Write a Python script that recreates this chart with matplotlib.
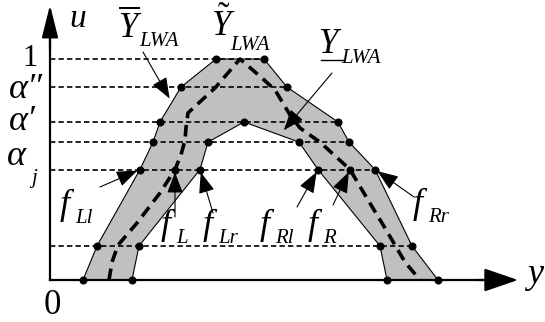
import matplotlib
matplotlib.use("Agg")
import matplotlib.pyplot as plt

plt.rcParams["mathtext.fontset"] = "custom"
plt.rcParams["mathtext.rm"] = "Liberation Serif"
plt.rcParams["mathtext.it"] = "Liberation Serif:italic"

SERIF = ["Liberation Serif", "DejaVu Serif"]

# alpha-cut levels (u axis)
alpha_levels = [1.0, 0.873, 0.715, 0.624, 0.5, 0.154]

# upper membership function  (Y-bar)
upper_x = [33, 47, 90, 103, 110, 131, 166, 214, 237, 288, 299, 325, 362, 388]
upper_u = [0, 0.154, 0.5, 0.624, 0.715, 0.873, 1.0, 1.0, 0.873, 0.715, 0.624, 0.5, 0.154, 0]

# lower membership function  (Y-underbar)
lower_x = [82, 89, 150, 158, 194, 249, 268, 330, 337]
lower_u = [0, 0.154, 0.5, 0.624, 0.715, 0.624, 0.5, 0.154, 0]

# an embedded type-1 set inside the footprint
emb_x = [59, 62, 68, 87, 110, 125, 131, 135, 136, 138, 165, 190,
         212, 225, 240, 250, 270, 300, 318, 335, 345, 355, 370]
emb_u = [0, 0.081, 0.158, 0.258, 0.394, 0.5, 0.566, 0.633, 0.688, 0.756, 0.869, 1.0,
         0.914, 0.860, 0.747, 0.688, 0.624, 0.5, 0.362, 0.235, 0.158, 0.081, 0]

alpha_j = 0.5


def at(px, py):
    """figure pixel (from top-left) -> data coords"""
    return px - 50, (280 - py) / 221


fig = plt.figure(figsize=(5.45, 3.22), dpi=100)
ax = fig.add_axes([0, 0, 1, 1])
ax.set_xlim(-50, 495)
ax.set_ylim((280 - 322) / 221, 280 / 221)
ax.axis("off")

# footprint of uncertainty
ax.fill(upper_x, upper_u, color="#c0c0c0", lw=0, zorder=1)
ax.fill(lower_x, lower_u, color="white", lw=0, zorder=1)
ax.plot(upper_x, upper_u, color="k", lw=0.8, zorder=2)
ax.plot(lower_x, lower_u, color="k", lw=0.8, zorder=2)

# alpha-cut lines, from the u axis to the right edge of the UMF
for lvl in alpha_levels:
    xr = max(x for x, u in zip(upper_x, upper_u) if u == lvl)
    ax.plot([0, xr], [lvl, lvl], color="k", lw=1.2, dashes=(3.2, 1.9), zorder=3)

ax.plot(emb_x, emb_u, color="k", lw=2.6, dashes=(3.2, 1.9), zorder=4)

# vertices
ax.plot(upper_x, upper_u, "o", color="k", ms=4.8, zorder=5)
ax.plot(lower_x, lower_u, "o", color="k", ms=4.8, zorder=5)
emb_j = [x for x, u in zip(emb_x, emb_u) if u == alpha_j]
ax.plot(emb_j, [alpha_j] * len(emb_j), "o", color="k", ms=4.8, zorder=5)

# axes with arrow heads
y_top = at(50, 5)[1]
x_end = at(518, 280)[0]
ax.plot([0, 0], [0, y_top - 0.05], color="k", lw=1.6, zorder=6)
ax.plot([0, x_end - 10], [0, 0], color="k", lw=1.6, zorder=6)
ax.annotate("", xy=(0, y_top), xytext=(0, y_top - 0.2),
            arrowprops=dict(arrowstyle="-|>,head_length=1.0,head_width=0.25",
                            mutation_scale=20, color="k", lw=1.6,
                            shrinkA=0, shrinkB=0), zorder=6)
ax.annotate("", xy=(x_end, 0), xytext=(x_end - 40, 0),
            arrowprops=dict(arrowstyle="-|>,head_length=1.05,head_width=0.36",
                            mutation_scale=20, color="k", lw=1.6,
                            shrinkA=0, shrinkB=0), zorder=6)

# pointer arrows: (tail pixel, tip in data)
lx = [x for x, u in zip(upper_x, upper_u) if u == alpha_j]
lw_ = [x for x, u in zip(lower_x, lower_u) if u == alpha_j]
pointers = [
    (at(143, 52), (121, 0.810)),
    (at(332, 73), (232, 0.668)),
    (at(100, 187), (lx[0], alpha_j)),
    (at(175, 217), (emb_j[0], alpha_j)),
    (at(213, 213), (lw_[0], alpha_j)),
    (at(297, 207), (lw_[1], alpha_j)),
    (at(333, 205), (emb_j[1], alpha_j)),
    (at(414, 197), (lx[1], alpha_j)),
]
for tail, tip in pointers:
    ax.annotate("", xy=tip, xytext=tail,
                arrowprops=dict(arrowstyle="-|>,head_length=1.0,head_width=0.38",
                                mutation_scale=13, color="k", lw=0.8,
                                shrinkA=0, shrinkB=2), zorder=7)


def txt(px, py, s, size, style="italic", ha="left"):
    x, u = at(px, py)
    ax.text(x, u, s, fontsize=size, family=SERIF, style=style,
            ha=ha, va="baseline", zorder=8)


# axis labels and levels
txt(69, 27, "u", 24)
txt(527, 283, "y", 26)
txt(38, 66, "1", 22, style="normal", ha="right")
txt(44, 314, "0", 25, style="normal")
txt(9, 98, "α″", 26)
txt(9, 130, "α′", 26)
txt(7, 165, "α", 26)
txt(31, 183, "j", 15)

# set names
txt(118, 37, r"$\overline{Y}$", 25)
txt(139, 46, "LWA", 15)
txt(211, 36, r"$\tilde{Y}$", 25)
txt(230, 50, "LWA", 15)
txt(318, 53, "Y", 25)
txt(341, 63, "LWA", 15)
ax.plot([at(321, 60)[0], at(343, 60)[0]], [at(0, 60)[1]] * 2, color="k", lw=1.0, zorder=8)

# interval end points
for fx, fy, sub in [(60, 214, "Ll"), (161, 234, "L"), (203, 234, "Lr"),
                    (260, 234, "Rl"), (308, 234, "R"), (413, 213, "Rr")]:
    txt(fx, fy, "f", 26)
    txt(fx + 15, fy + 9, sub, 15)

fig.savefig("out.png", dpi=100)
